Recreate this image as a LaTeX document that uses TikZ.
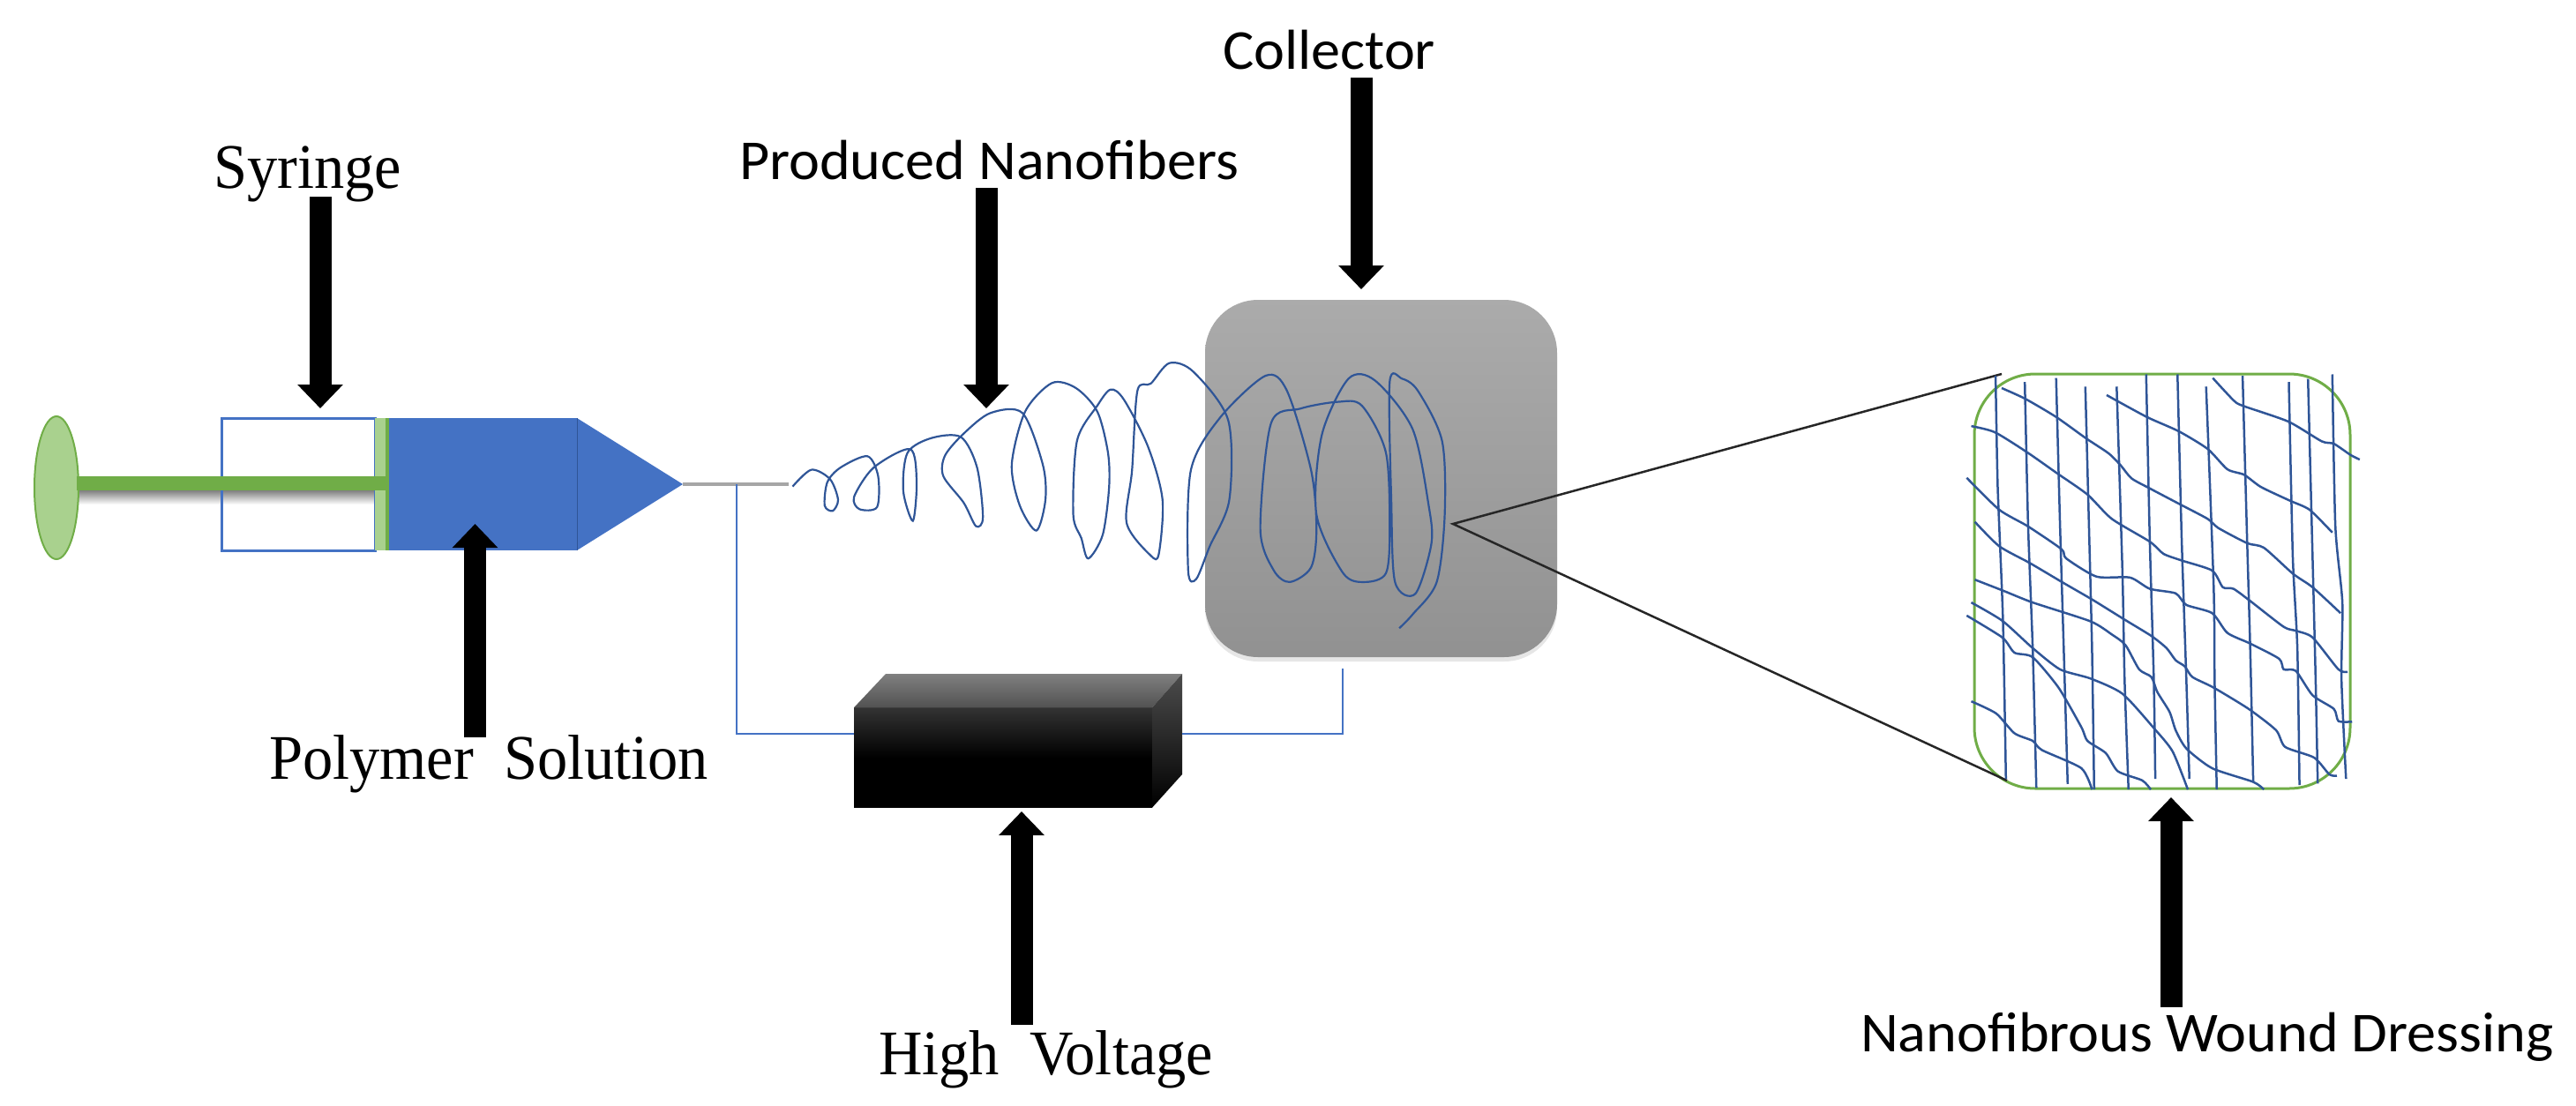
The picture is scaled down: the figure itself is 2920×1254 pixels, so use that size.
\documentclass[tikz,border=0pt]{standalone}
\usepackage{fontspec}
\usetikzlibrary{arrows.meta,positioning,shapes.geometric,shadows}

\newfontfamily\serifstretch[FakeStretch=0.95,WordSpace=2]{Liberation Serif}
\newfontfamily\sanslabel[FakeStretch=1.035]{Carlito}

\definecolor{fillblue}{HTML}{4472C4}
\definecolor{lineblue}{HTML}{2F5597}
\definecolor{rodgreen}{HTML}{70AD47}
\definecolor{palegreen}{HTML}{A9D18E}

\newcommand{\strand}[1]{\draw[fibre] plot coordinates {#1};}

\begin{document}
\begin{tikzpicture}[
  x=0.1mm, y=-0.1mm,
  every node/.style={inner sep=0pt, outer sep=0pt},
  serif/.style={font=\fontsize{20.5}{24}\serifstretch, anchor=base west},
  sans/.style={font=\fontsize{18.2}{22}\sanslabel, anchor=base west},
  arrow/.style={line width=2.5mm, -{Triangle[length=2.7mm, width=5mm]}},
  wire/.style={draw=fillblue, line width=0.25mm},
  spiral/.style={draw=lineblue, line width=0.22mm, smooth, tension=0.5},
  fibre/.style={draw=lineblue, line width=0.25mm, smooth, tension=0.4},
  barrel/.style={draw=fillblue, line width=0.3mm, minimum width=17.4mm, minimum height=15mm},
  liquid/.style={fill=fillblue, minimum width=21.5mm, minimum height=15mm}
]

\useasboundingbox (0,0) rectangle (2920,1254);

\shade[top color=black!50, bottom color=white] (86,556) rectangle (425,572);

\node[barrel] (barrel) at (338,549) {};
\node[fill=palegreen, minimum width=1.4mm, minimum height=15mm, right=0pt of barrel] (head) {};
\node[liquid, right=0pt of head] (body) {};
\coordinate (tip) at (774,549);
\fill[fillblue] (body.north east) -- (tip) -- (body.south east) -- cycle;
\draw[lineblue, line width=0.1mm] (body.north east) -- (body.south east);
\draw[rodgreen, line width=0.35mm] (head.north east) -- (head.south east);

\node[ellipse, draw=rodgreen, fill=palegreen, line width=0.2mm, minimum width=5mm, minimum height=16.2mm] (grip) at (64,553) {};
\coordinate (rodStart) at (87,548);
\draw[rodgreen, line width=1.6mm] (rodStart) -- (head.east |- rodStart);

\coordinate (needleEnd) at (894,549);
\draw[black!35, line width=0.45mm] (tip) -- (needleEnd);

\node[shade, top color=black!80, bottom color=black, middle color=black, minimum width=33.8mm, minimum height=11.35mm] (supply) at (1137,859) {};
\coordinate (supplyTopL) at (1004,764);
\coordinate (supplyTopR) at (1340,764);
\coordinate (supplyLowR) at (1340,878);
\shade[top color=black!50, bottom color=black!68] (supply.north west) -- (supplyTopL) -- (supplyTopR) -- (supply.north east) -- cycle;
\shade[top color=black!70, bottom color=black] (supply.north east) -- (supplyTopR) -- (supplyLowR) -- (supply.south east) -- cycle;

\coordinate (wireTop) at (835,549);
\coordinate (wireLeft) at (835,832);
\coordinate (wireRight) at (1522,832);
\coordinate (wireEnd) at (1522,758);
\draw[wire] (wireTop) -- (wireLeft) -- (supply.west |- wireLeft);
\draw[wire] (supplyTopR |- wireRight) -- (wireRight) -- (wireEnd);

\node[rounded corners=6mm, top color=black!33, bottom color=black!43, minimum width=39.9mm, minimum height=40.5mm, drop shadow={opacity=0.2, shadow xshift=0mm, shadow yshift=-0.5mm}] (collector) at (1565.5,542.5) {};

\begin{scope}[shift={(850,300)}, x=0.0606mm, y=-0.03333mm]
\draw[spiral] plot coordinates {(80,755) (115,698) (150,730) (165,800) (155,838) (140,820) (145,740) (170,690) (220,652) (240,720) (238,825) (205,832) (195,790) (232,690) (300,628) (312,740) (305,872) (287,770) (295,640) (340,590) (395,587) (425,690) (436,860) (423,890) (400,810) (362,720) (365,650) (400,575) (450,505) (510,505) (548,680) (553,800) (536,905) (505,820) (490,680) (515,500) (565,403) (610,420) (650,500) (670,640) (672,760) (660,920) (633,1000) (620,930) (605,850) (612,600) (650,480) (675,425) (700,460) (745,620) (772,800) (765,985) (750,990) (705,880) (715,700) (725,430) (750,405) (785,335) (830,365) (895,530) (897,800) (860,960) (835,1070) (820,1040) (825,700) (880,520) (965,378) (1005,430) (1050,700) (1060,900) (1050,1030) (1010,1080) (980,1040) (955,900) (975,540) (1030,490) (1100,467) (1145,480) (1190,640) (1197,900) (1190,1050) (1150,1080) (1110,1050) (1060,850) (1070,580) (1120,388) (1170,395) (1240,560) (1270,820) (1275,950) (1245,1120) (1207,1080) (1200,800) (1197,400) (1220,388) (1250,430) (1295,600) (1300,850) (1285,1080) (1240,1190) (1215,1237)};
\end{scope}

\node[draw=rodgreen, line width=0.3mm, rounded corners=6.9mm, minimum width=42.6mm, minimum height=47mm] (dressing) at (2451,659) {};
\coordinate (focus) at (1647,594);
\coordinate (dressingUpper) at (2269,424);
\coordinate (dressingLower) at (2275,885);
\draw[black!85, line width=0.25mm] (dressingUpper) -- (focus) -- (dressingLower);

\begin{scope}[shift={(2180,390)}, x=0.03448mm, y=-0.03448mm]
\strand{(238,105) (245,470) (262,900) (272,1430)}
\strand{(334,125) (345,600) (360,1000) (372,1460)}
\strand{(437,112) (450,600) (462,1000) (475,1447)}
\strand{(533,140) (545,600) (555,1000) (562,1465)}
\strand{(636,140) (655,750) (662,1100) (675,1465)}
\strand{(733,100) (745,650) (758,1100) (763,1430)}
\strand{(836,100) (850,650) (865,1100) (875,1430)}
\strand{(930,140) (955,800) (958,1100) (965,1465)}
\strand{(1050,105) (1065,650) (1075,1000) (1085,1440)}
\strand{(1202,125) (1215,700) (1230,1000) (1237,1450)}
\strand{(1265,115) (1280,700) (1290,1100) (1297,1445)}
\strand{(1345,100) (1355,600) (1378,850) (1375,1100) (1390,1430)}
\strand{(258,145) (335,180) (437,240) (535,310) (610,360) (650,400) (685,442) (745,475) (840,525) (935,575) (970,605) (1065,655) (1120,670) (1215,755) (1280,800) (1372,885)}
\strand{(603,168) (735,240) (840,287) (935,345) (1000,412) (1055,430) (1110,470) (1205,515) (1270,545) (1345,620)}
\strand{(952,112) (1020,185) (1050,203) (1200,255) (1310,320) (1350,328) (1405,365) (1435,380)}
\strand{(158,270) (235,290) (340,355) (440,425) (540,495) (620,575) (745,650) (790,690) (850,712) (950,745) (985,800) (1020,805) (1075,845) (1185,930) (1225,943) (1280,965) (1365,1070) (1395,1078)}
\strand{(143,440) (250,545) (345,600) (455,675) (470,705) (570,765) (680,768) (745,805) (830,820) (865,858) (950,885) (1000,950) (1075,985) (1170,1035) (1185,1070) (1225,1075) (1280,1155) (1350,1200) (1365,1240) (1410,1242)}
\strand{(170,585) (250,665) (350,720) (460,785) (555,840) (660,905) (750,960) (800,1000) (830,1040) (860,1060) (885,1095) (955,1130) (1070,1200) (1160,1270) (1190,1325) (1285,1360) (1335,1415) (1360,1420)}
\strand{(170,775) (265,812) (360,850) (550,912) (620,955) (665,990) (710,1070) (750,1095) (770,1145) (810,1210) (830,1270) (865,1330) (950,1395) (1085,1440) (1120,1465)}
\strand{(158,850) (260,910) (360,1000) (450,1070) (550,1100) (655,1150) (760,1265) (820,1340) (870,1465)}
\strand{(143,893) (260,965) (300,1015) (360,1030) (445,1130) (520,1260) (540,1305) (600,1345) (640,1405) (720,1435) (748,1465)}
\strand{(158,1175) (240,1215) (300,1280) (360,1305) (390,1335) (520,1395) (555,1465)}
\end{scope}

\node[serif] (syringeText) at (242,213) {Syringe};
\node[serif] (polymerText) at (305,883) {Polymer Solution};
\node[serif] (voltageText) at (996,1218) {High Voltage};
\node[sans] (producedText) at (838,203) {Produced Nanofibers};
\node[sans] (collectorText) at (1386,78) {Collector};
\node[sans] (dressingText) at (2109,1192) {Nanofibrous Wound Dressing};

\coordinate (syringeTail) at (363,223);
\coordinate (syringeHead) at (363,463);
\coordinate (polymerTail) at (538.5,836);
\coordinate (polymerHead) at (538.5,594);
\coordinate (producedTail) at (1118,213);
\coordinate (producedHead) at (1118,463);
\coordinate (collectorTail) at (1543,88);
\coordinate (collectorHead) at (1543,328);
\coordinate (voltageTail) at (1158,1162);
\coordinate (voltageHead) at (1158,920);
\coordinate (dressingTail) at (2461,1142);
\coordinate (dressingHead) at (2461,904);

\draw[arrow] (syringeTail) -- (syringeHead);
\draw[arrow] (polymerTail) -- (polymerHead);
\draw[arrow] (producedTail) -- (producedHead);
\draw[arrow] (collectorTail) -- (collectorHead);
\draw[arrow] (voltageTail) -- (voltageHead);
\draw[arrow] (dressingTail) -- (dressingHead);

\end{tikzpicture}
\end{document}
